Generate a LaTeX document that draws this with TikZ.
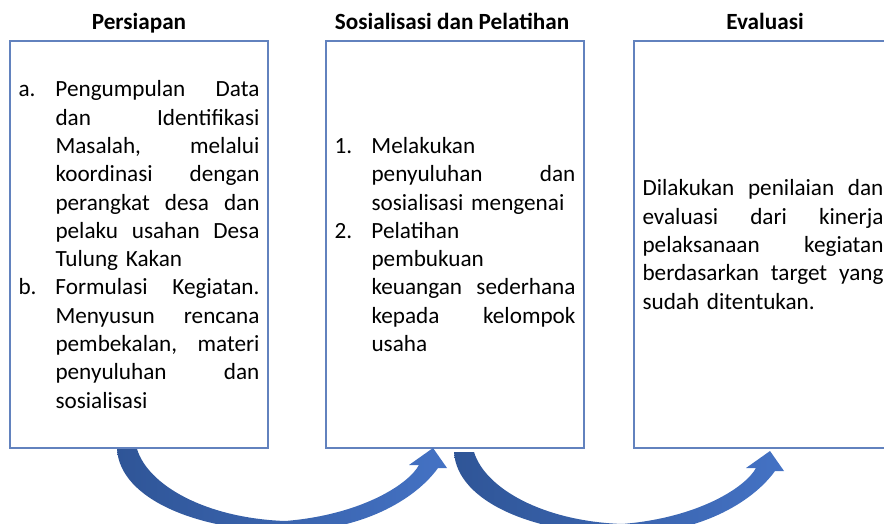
\documentclass[tikz,border=0pt]{standalone}
\usepackage{fontspec}
\setmainfont{Carlito}
\usepackage{xcolor}
\usepackage{tikz}
\usetikzlibrary{calc}
\definecolor{boxline}{RGB}{98,130,190}
\definecolor{arrdark}{RGB}{47,85,151}
\definecolor{arrlite}{RGB}{68,114,196}
\newcommand{\jl}[2][4.08cm]{\makebox[#1][s]{\spaceskip=0.23em plus 1fil minus 0.08em\relax #2}}
\newcommand{\rl}[2][4.08cm]{\makebox[#1][l]{#2}}
\newcommand{\lbl}[1]{\makebox[0.74cm][l]{#1}}

\begin{document}
\begin{tikzpicture}[x=0.02cm, y=-0.02cm,
  stagebox/.style={draw=boxline, line width=0.75pt, minimum width=5.16cm,
    minimum height=8.14cm, text width=4.82cm, inner xsep=0.17cm, align=left,
    font=\fontsize{13.2}{16.1}\selectfont},
  stagehead/.style={anchor=base, font=\fontsize{13.2}{16.1}\selectfont\bfseries}]
  \useasboundingbox (0,0) rectangle (884,523);
  \clip (0,0) rectangle (884,523);

  % Stage boxes
  \node[stagebox] (prep) at (139,244.5) {%
    \lbl{a.}\jl{Pengumpulan Data}\\
    \lbl{}\jl{dan Identifikasi}\\
    \lbl{}\jl{Masalah, melalui}\\
    \lbl{}\jl{koordinasi dengan}\\
    \lbl{}\jl{perangkat desa dan}\\
    \lbl{}\jl{pelaku usahan Desa}\\
    \lbl{}\rl{Tulung Kakan}\\
    \lbl{b.}\jl{Formulasi Kegiatan.}\\
    \lbl{}\jl{Menyusun rencana}\\
    \lbl{}\jl{pembekalan, materi}\\
    \lbl{}\jl{penyuluhan dan}\\
    \lbl{}\rl{sosialisasi}};
  \node[stagebox] (train) at (455,244.5) {%
    \lbl{1.}\rl{Melakukan}\\
    \lbl{}\jl{penyuluhan dan}\\
    \lbl{}\rl{sosialisasi mengenai}\\
    \lbl{2.}\rl{Pelatihan}\\
    \lbl{}\rl{pembukuan}\\
    \lbl{}\jl{keuangan sederhana}\\
    \lbl{}\jl{kepada kelompok}\\
    \lbl{}\rl{usaha}};
  \node[stagebox] (eval) at (763,244.5) {%
    \jl[4.82cm]{Dilakukan penilaian dan}\\
    \jl[4.82cm]{evaluasi dari kinerja}\\
    \jl[4.82cm]{pelaksanaan kegiatan}\\
    \jl[4.82cm]{berdasarkan target yang}\\
    \rl[4.82cm]{sudah ditentukan.}};

  % Headings
  \node[stagehead] (prephd) at (139,30) {Persiapan};
  \node[stagehead] (trainhd) at (452,30) {Sosialisasi dan Pelatihan};
  \node[stagehead] (evalhd) at (765,30) {Evaluasi};

  % Curved arrows under the boxes
  \foreach \sx/\sy in {0/0, 337/3}{
    \shade[left color=arrdark, right color=arrlite, shift={(\sx,\sy)}]
      (117,449) .. controls (120,500) and (200,531) .. (285,531)
      .. controls (360,532) and (415,500) .. (438,468)
      -- (447,468) -- (433,448) -- (409,465) -- (419,465)
      .. controls (408,485) and (360,515) .. (285,521)
      .. controls (205,518) and (148,485) .. (137,449) -- cycle;
  }
\end{tikzpicture}
\end{document}
